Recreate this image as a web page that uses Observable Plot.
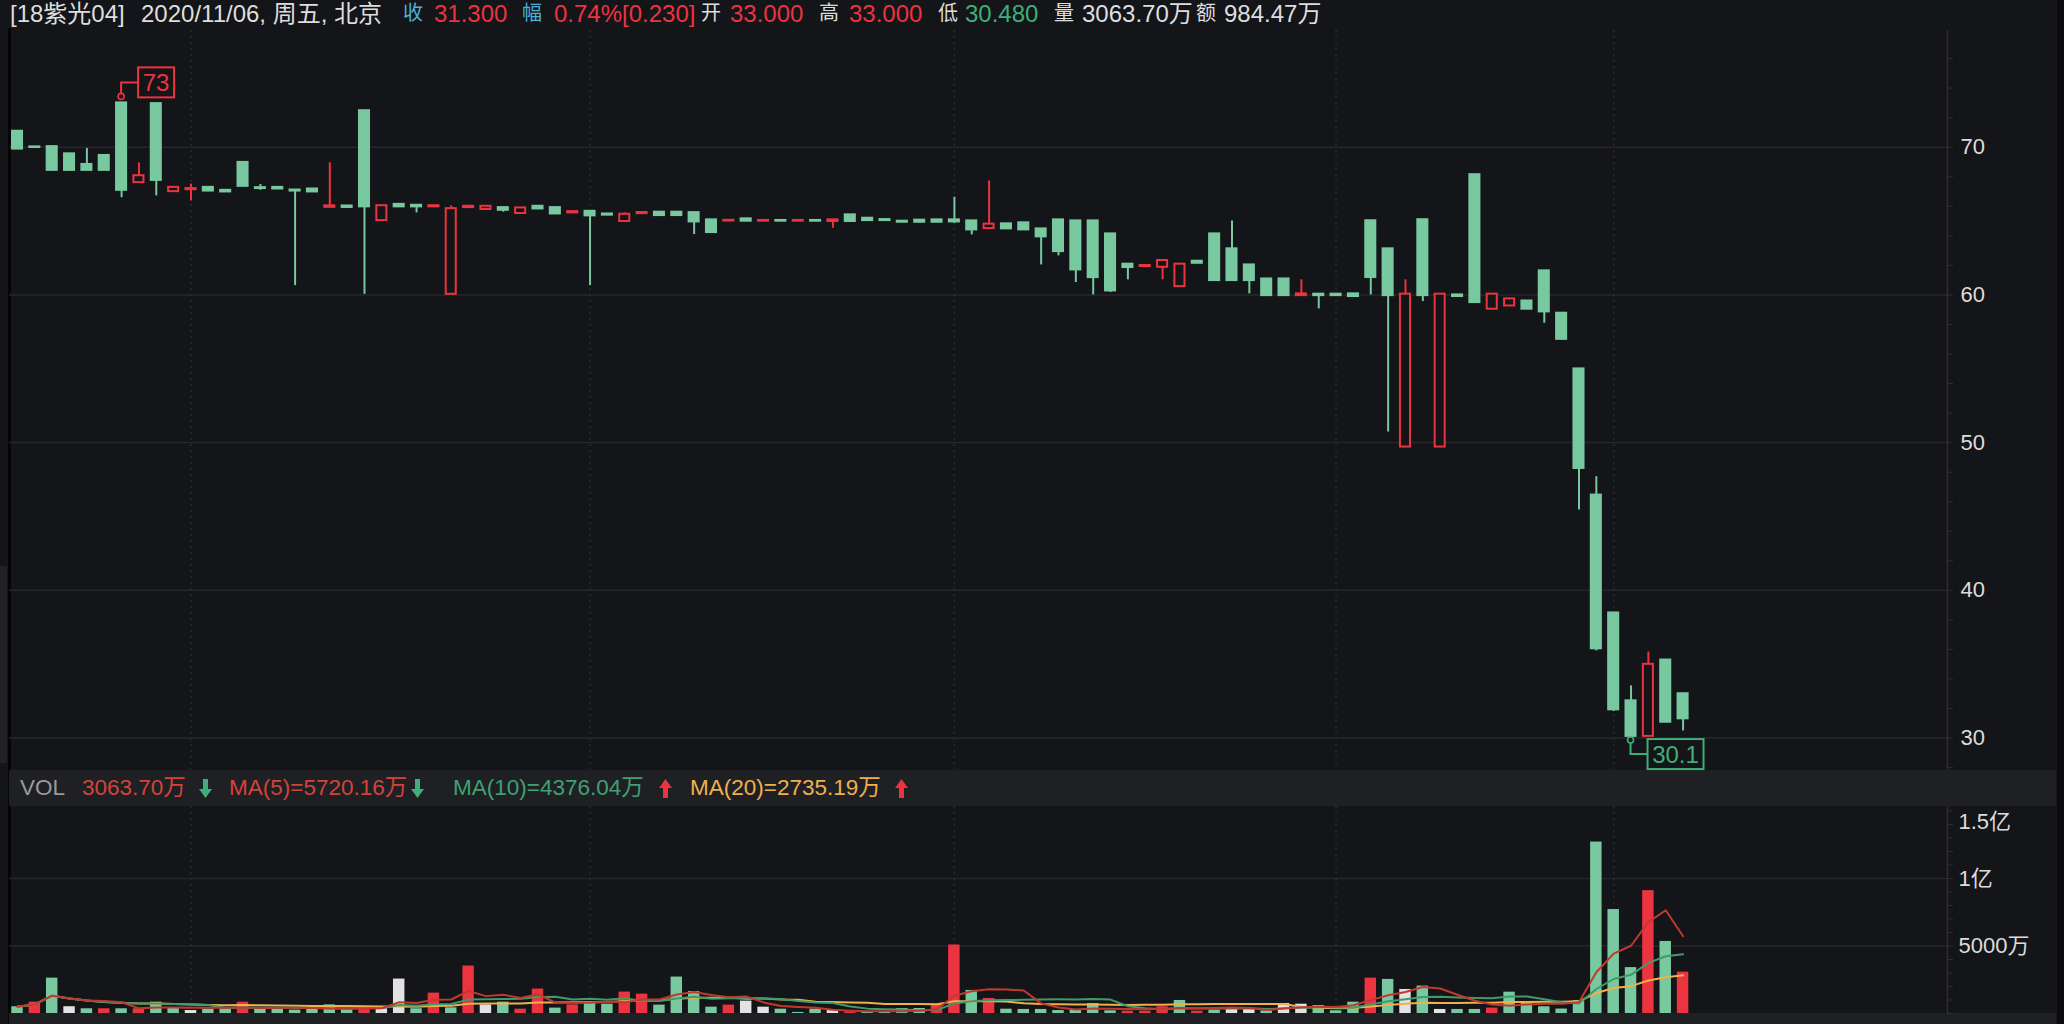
<!DOCTYPE html>
<html><head><meta charset="utf-8">
<script src="https://cdn.jsdelivr.net/npm/d3@7"></script>
<script src="https://cdn.jsdelivr.net/npm/@observablehq/plot@0.6"></script>
<style>
body{margin:0;background:#141518;width:2064px;height:1024px;overflow:hidden;position:relative;font-family:"Liberation Sans","Noto Sans CJK SC",sans-serif;}
.abs{position:absolute;white-space:nowrap}
.hd{position:absolute;top:0;line-height:27px;font-size:24px;white-space:nowrap}
.hd.lbl{font-size:20px}
.st{position:absolute;top:770px;line-height:36px;font-size:22.5px;white-space:nowrap}
.ar{position:absolute;top:779px}
</style></head><body>
<div class="abs" style="left:8px;top:28px;width:3px;height:996px;background:#050506"></div>
<div class="abs" style="left:0;top:566px;width:7px;height:197px;background:#202125"></div>
<div class="abs" style="left:9px;top:770px;width:2047px;height:36px;background:#1f2024"></div>
<div class="abs" style="left:9px;top:1013px;width:2047px;height:11px;background:#1f2024"></div>
<div class="abs" style="left:2057px;top:0;width:7px;height:1024px;background:#0b0b0c"></div>
<div id="header"></div>
<div id="strip"></div>
<div id="price" class="abs" style="left:0;top:30px"></div>
<div id="vol" class="abs" style="left:0;top:806px"></div>
<script>
// ---------------- data ----------------
const opens = [71.08,70.02,70.04,69.55,68.83,69.44,73.00,67.60,72.95,66.99,
67.12,67.28,67.08,68.97,67.26,67.28,67.10,67.17,65.93,66.02,
72.47,65.03,66.13,66.07,65.96,60.04,65.91,65.78,65.91,65.51,
66.00,65.91,65.55,65.66,65.48,64.97,65.50,65.60,65.60,65.57,
65.08,65.00,65.15,64.99,65.04,64.99,65.04,64.97,65.42,65.19,
65.10,64.99,65.06,65.08,65.08,65.01,64.49,64.81,64.88,64.47,
65.08,65.01,65.01,64.13,62.08,61.92,61.87,60.56,62.28,64.13,
63.12,62.03,61.08,61.08,59.95,60.05,60.05,60.07,65.02,63.12,
49.70,65.09,49.70,60.00,68.14,59.03,59.25,59.59,61.63,58.76,
54.99,46.45,38.47,32.52,30.11,35.28,33.00];
const closes = [69.87,69.98,68.43,68.43,68.43,68.43,67.08,68.07,67.75,67.28,
67.20,67.03,66.97,67.35,67.20,67.17,67.03,66.97,66.03,65.92,
65.96,66.04,65.96,65.96,66.04,65.84,66.00,66.00,65.73,65.89,
65.82,65.48,65.64,65.35,65.40,65.46,65.58,65.37,65.37,64.94,
64.22,65.05,64.99,65.04,64.99,65.04,64.99,65.08,64.97,65.03,
65.03,64.92,64.92,64.92,64.94,64.40,64.79,64.47,64.40,63.93,
62.93,61.69,61.17,60.27,61.85,61.99,62.33,62.08,62.14,60.97,
60.97,60.97,59.95,59.95,60.07,59.95,59.95,59.89,61.18,59.95,
60.05,59.95,60.05,59.89,59.48,60.05,59.73,59.03,58.85,56.99,
48.25,36.04,31.91,30.11,34.99,31.07,31.30];
const highs = [71.08,70.02,70.04,69.55,69.91,69.44,73.00,68.94,72.95,67.28,
67.50,67.28,67.08,68.97,67.48,67.28,67.10,67.17,68.94,66.02,
72.47,66.04,66.13,66.07,66.04,66.02,66.06,66.00,65.91,65.89,
66.00,65.91,65.64,65.66,65.48,65.55,65.58,65.60,65.60,65.57,
65.08,65.05,65.15,65.04,65.04,65.04,65.04,65.08,65.42,65.19,
65.10,64.99,65.06,65.08,66.61,65.01,67.72,64.81,64.88,64.47,
65.08,65.01,65.01,64.13,62.08,61.99,62.33,62.08,62.28,64.13,
65.01,62.03,61.08,61.08,61.02,60.05,60.05,60.07,65.02,63.12,
61.02,65.09,60.05,60.00,68.14,60.05,59.73,59.59,61.63,58.76,
54.99,47.69,38.47,33.53,35.82,35.28,33.00];
const lows = [69.87,69.98,68.43,68.36,68.43,68.43,66.58,67.60,66.70,66.99,
66.36,67.03,66.97,67.35,67.08,67.17,60.63,66.97,65.93,65.92,
60.04,65.03,65.96,65.55,65.96,60.04,65.91,65.78,65.60,65.51,
65.82,65.48,65.55,60.63,65.40,64.97,65.50,65.37,65.37,64.09,
64.22,65.00,64.99,64.99,64.99,64.99,64.99,64.51,64.97,65.03,
65.03,64.92,64.85,64.92,64.85,64.06,64.49,64.47,64.40,62.03,
62.64,60.84,60.00,60.16,61.02,61.92,61.02,60.56,62.14,60.97,
60.97,60.07,59.95,59.95,59.95,59.05,59.95,59.89,60.00,50.72,
49.70,59.55,49.70,59.89,59.48,59.03,59.25,59.03,58.08,56.99,
45.44,35.90,31.80,30.10,30.11,31.07,30.48];
// volume in 万 (10k)
const volumes = [500,840,2620,500,350,350,350,350,840,370,
220,320,350,840,350,300,250,300,640,300,
350,350,2550,350,1510,420,3515,640,840,320,
1810,400,640,840,690,1585,1435,620,2700,1630,
470,620,915,470,320,80,320,220,120,75,
75,370,370,690,5075,1710,1115,320,300,300,
220,300,740,200,170,170,500,965,170,250,
320,320,200,740,690,590,200,840,2620,2525,
1780,2030,300,300,300,400,1580,790,500,330,
950,12700,7700,3400,9100,5337,3063.7];
// volume bar direction vs previous close: R up, G down, W flat
const volDir = ("GRGWGRGRGG"+"WGGRGGGGGG"+"RWWGRGRWGR"+"RGRGGRRGGG"+"GRWWGGGWRG"+
  "GGGRRGRGGG"+"GGGGRRRGRG"+"WWGWWGGGRG"+"WGWGGRGGGG"+"GGGGRGR").split("");
const monthStarts = [11, 34, 55, 77, 93];
const priceTicks = [30, 40, 50, 60, 70];
const priceMinorTicks = d3.range(28, 78, 2);
const volTicks = [5000, 10000];
const volTopTick = [15000];
const volMinorTicks = d3.range(0, 15001, 1000);

const headerItems = [
  ["[18紫光04]", "w"], ["2020/11/06, 周五, 北京", "w"], ["收", "c", 1], ["31.300", "r"],
  ["幅", "c", 1], ["0.74%[0.230]", "r"], ["开", "w", 1], ["33.000", "r"], ["高", "w", 1], ["33.000", "r"],
  ["低", "w", 1], ["30.480", "g"], ["量", "w", 1], ["3063.70万", "w"], ["额", "w", 1], ["984.47万", "w"]
];
const stripItems = [
  ["VOL", "vol"], ["3063.70万", "ma5"], ["MA(5)=5720.16万", "ma5"],
  ["MA(10)=4376.04万", "ma10"], ["MA(20)=2735.19万", "ma20"]
];
const stripArrows = ["down", "down", "up", "up"];

// ---------------- style / layout ----------------
const BG = "#141518", GREEN = "#78c8a0", RED = "#ec3340", FLAT = "#e2e2e2";
const GRID = "#26272b", AXIS = "#2e2f33";
const MA5C = "#c0392f", MA10C = "#3f9a6c", MA20C = "#f0b04c";
const textColors = {w: "#dedede", c: "#4fb0d8", r: "#ec3340", g: "#3fae78",
  vol: "#9a9a9a", ma5: "#d2443a", ma10: "#3fa172", ma20: "#f0b04c"};
const headerX = [10, 141, 403, 434, 522, 554, 701, 730, 819, 849, 938, 965, 1054, 1082, 1196, 1224];
const stripX = [20, 82, 229, 453, 690];
const arrowX = [199, 411, 659, 895];
const W = 2064;
const X_DOMAIN = [0.539, 112.24];
const FONT = "Liberation Sans, Noto Sans CJK SC, sans-serif";

// header
const hd = document.getElementById("header");
headerItems.forEach(([t, c, lbl], k) => {
  const s = document.createElement("span");
  s.className = lbl ? "hd lbl" : "hd"; s.textContent = t; s.style.left = headerX[k] + "px"; s.style.color = textColors[c];
  hd.appendChild(s);
});
// strip
const st = document.getElementById("strip");
stripItems.forEach(([t, c], k) => {
  const s = document.createElement("span");
  s.className = "st"; s.textContent = t; s.style.left = stripX[k] + "px"; s.style.color = textColors[c];
  st.appendChild(s);
});
stripArrows.forEach((dir, k) => {
  const col = dir === "down" ? "#3fae78" : "#ec3340";
  const path = dir === "down" ? "M4 0h5v10h4l-6.5 9-6.5-9h4z" : "M4 19h5v-10h4l-6.5-9-6.5 9h4z";
  const d = document.createElement("div");
  d.className = "ar"; d.style.left = arrowX[k] + "px";
  d.innerHTML = `<svg width="13" height="19" viewBox="0 0 13 19"><path d="${path}" fill="${col}"/></svg>`;
  st.appendChild(d);
});

// ---------------- price chart ----------------
const rows = opens.map((o, k) => ({i: k + 1, o, c: closes[k], h: highs[k], l: lows[k]}));
const isUp = d => d.c >= d.o;

const price = Plot.plot({
  width: W, height: 739,
  marginLeft: 9, marginRight: 117, marginTop: 0, marginBottom: 0,
  style: {background: "transparent", color: "#dcdcdc", fontFamily: FONT, overflow: "visible"},
  x: {domain: X_DOMAIN, axis: null},
  y: {domain: [27.87, 77.90], axis: null},
  marks: [
    Plot.ruleY(priceTicks, {stroke: GRID, strokeWidth: 1.5}),
    Plot.ruleX(monthStarts, {stroke: "#2a2b2f", strokeWidth: 1.5, strokeDasharray: "2,4"}),
    Plot.frame({anchor: "right", stroke: AXIS, strokeWidth: 1.5}),
    Plot.axisY(priceMinorTicks, {anchor: "right", tickSize: 5, tickFormat: () => "", stroke: AXIS, label: null}),
    Plot.axisY(priceTicks, {anchor: "right", tickSize: 0, tickPadding: 13, fontSize: 22, fill: "#dcdcdc", label: null}),
    Plot.ruleX(rows, {x: "i", y1: "l", y2: "h", stroke: d => isUp(d) ? RED : GREEN, strokeWidth: 2}),
    Plot.rect(rows, {
      x1: d => d.i - 0.29, x2: d => d.i + 0.29, y1: "o", y2: "c",
      fill: d => isUp(d) ? BG : GREEN, stroke: d => isUp(d) ? RED : GREEN, strokeWidth: 2
    })
  ]
});
document.getElementById("price").appendChild(price);

// extreme annotations through the plot's scales
(function annotate() {
  const xs = price.scale("x"), ys = price.scale("y");
  const svg = d3.select(price);
  const g = svg.append("g");
  const maxRow = rows.reduce((a, b) => b.h > a.h ? b : a);
  const minRow = rows.reduce((a, b) => b.l < a.l ? b : a);
  const fmt = v => String(+v.toFixed(1));
  function marker(row, val, col, above) {
    const cx = xs.apply(row.i);
    const cy = ys.apply(val) + (above ? -6 : 4);
    const bw = fmt(val).length > 2 ? 56 : 36, bh = 30;
    const my = above ? cy - 14 : cy + 14;
    const bx = cx + 17;
    g.append("path").attr("d", `M${cx},${cy + (above ? -3 : 3)}V${my}H${bx}`)
      .attr("fill", "none").attr("stroke", col).attr("stroke-width", 2);
    g.append("circle").attr("cx", cx).attr("cy", cy).attr("r", 3)
      .attr("fill", BG).attr("stroke", col).attr("stroke-width", 1.6);
    g.append("rect").attr("x", bx).attr("y", my - bh / 2).attr("width", bw).attr("height", bh)
      .attr("fill", BG).attr("stroke", col).attr("stroke-width", 2);
    g.append("text").attr("x", bx + bw / 2).attr("y", my).attr("dy", "0.36em")
      .attr("text-anchor", "middle").attr("fill", col).attr("font-size", 24)
      .attr("font-family", FONT).text(fmt(val));
  }
  marker(maxRow, maxRow.h, RED, true);
  marker(minRow, minRow.l, "#3fae78", false);
})();

// ---------------- volume chart ----------------
const volRows = volumes.map((v, k) => ({i: k + 1, v, dir: volDir[k]}));
function movingAvg(arr, n) {
  return arr.map((_, k) => d3.mean(arr.slice(Math.max(0, k - n + 1), k + 1)));
}
const maRows = (n) => movingAvg(volumes, n).map((v, k) => ({i: k + 1, v}));
const dirColor = {R: RED, G: GREEN, W: FLAT};
const volFmt = v => v >= 10000 ? (v / 10000) + "亿" : v + "万";

const vol = Plot.plot({
  width: W, height: 218,
  marginLeft: 9, marginRight: 117, marginTop: 0, marginBottom: 11,
  style: {background: "transparent", color: "#dcdcdc", fontFamily: FONT, overflow: "visible"},
  x: {domain: X_DOMAIN, axis: null},
  y: {domain: [0, 15333], axis: null},
  marks: [
    Plot.ruleY(volTicks, {stroke: GRID, strokeWidth: 1.5}),
    Plot.ruleX(monthStarts, {stroke: "#2a2b2f", strokeWidth: 1.5, strokeDasharray: "2,4"}),
    Plot.frame({anchor: "right", stroke: AXIS, strokeWidth: 1.5}),
    Plot.axisY(volMinorTicks, {anchor: "right", tickSize: 5, tickFormat: () => "", stroke: AXIS, label: null}),
    Plot.axisY(volTicks, {anchor: "right", tickSize: 0, tickPadding: 11, fontSize: 22, fill: "#dcdcdc", tickFormat: volFmt, label: null}),
    Plot.axisY(volTopTick, {anchor: "right", tickSize: 0, tickPadding: 11, fontSize: 22, fill: "#dcdcdc", tickFormat: volFmt, dy: 11, label: null}),
    Plot.rect(volRows, {x1: d => d.i - 0.33, x2: d => d.i + 0.33, y1: 0, y2: "v", fill: d => dirColor[d.dir]}),
    Plot.line(maRows(20), {x: "i", y: "v", stroke: MA20C, strokeWidth: 2}),
    Plot.line(maRows(10), {x: "i", y: "v", stroke: MA10C, strokeWidth: 2}),
    Plot.line(maRows(5), {x: "i", y: "v", stroke: MA5C, strokeWidth: 2})
  ]
});
document.getElementById("vol").appendChild(vol);
</script>
</body></html>
